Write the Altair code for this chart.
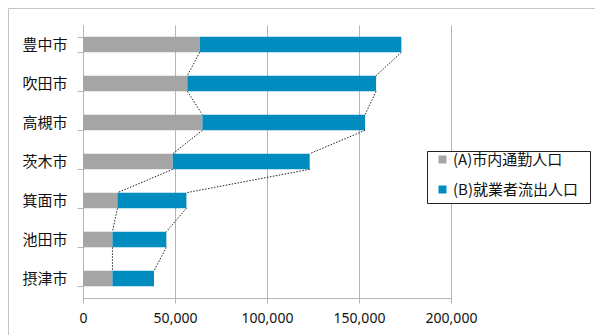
import altair as alt
import pandas as pd

# ---- data ----
cities = ["豊中市", "吹田市", "高槻市", "茨木市", "箕面市", "池田市", "摂津市"]
series_names = ["(A)市内通勤人口", "(B)就業者流出人口"]
a_vals = [63400, 56700, 64900, 48800, 18700, 16000, 16000]
b_vals = [109600, 102600, 88400, 74400, 37500, 29300, 22600]
x_ticks = [0, 50000, 100000, 150000, 200000]

colors = ["#A5A5A5", "#008CBF"]
grid_col = "#B4B4B4"
W, H = 368, 273
pad_inner, pad_outer = 0.6, 0.3
step = H / (len(cities) - pad_inner + 2 * pad_outer)
bw = step * (1 - pad_inner)

# long table for stacked bars
rows = []
for c, a, b in zip(cities, a_vals, b_vals):
    rows.append({"city": c, "series": series_names[0], "value": a, "ord": 0})
    rows.append({"city": c, "series": series_names[1], "value": b, "ord": 1})
bars_df = pd.DataFrame(rows)

# series-line connectors
totals = [a + b for a, b in zip(a_vals, b_vals)]
conn = []
for i in range(len(cities) - 1):
    conn.append({"city": cities[i], "next": cities[i + 1], "x": a_vals[i], "x2": a_vals[i + 1]})
    conn.append({"city": cities[i], "next": cities[i + 1], "x": totals[i], "x2": totals[i + 1]})
conn_df = pd.DataFrame(conn)

one = pd.DataFrame({"k": [0]})

y_scale = alt.Scale(domain=cities, paddingInner=pad_inner, paddingOuter=pad_outer)
x_scale = alt.Scale(domain=[0, 200000], nice=False)

y_axis = alt.Axis(title=None, tickBand="extent", tickSize=6, tickColor=grid_col,
                  domainColor=grid_col, labelPadding=10, labelFont="Noto Sans CJK JP",
                  labelFontSize=15, labelColor="#111111", grid=False)
x_axis = alt.Axis(title=None, values=x_ticks, format=",.0f", grid=True, gridColor=grid_col,
                  domainColor=grid_col, tickColor=grid_col, tickSize=5, labelPadding=8,
                  labelFlush=False, labelFont="Noto Sans", labelFontSize=14,
                  labelColor="#111111")

border = alt.Chart(one).mark_rect(fillOpacity=0, stroke="#C4C4C4", strokeWidth=1).encode(
    x=alt.value(-74.5), x2=alt.value(600), y=alt.value(-16.5), y2=alt.value(400)
)

bars = alt.Chart(bars_df).mark_bar().encode(
    y=alt.Y("city:N", scale=y_scale, sort=cities, axis=y_axis),
    x=alt.X("value:Q", stack="zero", scale=x_scale, axis=x_axis),
    color=alt.Color("series:N", scale=alt.Scale(domain=series_names, range=colors),
                    legend=alt.Legend(title=None, orient="none", legendX=352, legendY=127,
                                      padding=0, symbolType="square", symbolSize=64,
                                      symbolStrokeWidth=0, symbolOpacity=1, labelOffset=3,
                                      labelFont="Noto Sans CJK JP", labelFontSize=15,
                                      labelColor="#111111", rowPadding=14)),
    order=alt.Order("ord:Q", sort="ascending"),
)

lines = alt.Chart(conn_df).mark_rule(
    color="#222222", strokeWidth=1, strokeDash=[1.5, 1.5], yOffset=bw / 2, y2Offset=-bw / 2
).encode(
    y=alt.Y("city:N", scale=y_scale, sort=cities, axis=y_axis),
    y2="next:N",
    x=alt.X("x:Q", scale=x_scale, axis=x_axis),
    x2="x2:Q",
)

legend_box = alt.Chart(one).mark_rect(fill="white", stroke="#222222", strokeWidth=1).encode(
    x=alt.value(344.5), x2=alt.value(507.5), y=alt.value(126.5), y2=alt.value(178.5)
)

chart = alt.layer(border, bars, lines, legend_box).properties(
    width=W, height=H,
    autosize=alt.AutoSizeParams(type="none"),
    padding={"left": 83, "top": 25, "right": 595 - 83 - W, "bottom": 335 - 25 - H},
    background="white",
).configure_view(strokeWidth=0)

chart.save("out.html", embed_options={"renderer": "svg", "actions": False})
